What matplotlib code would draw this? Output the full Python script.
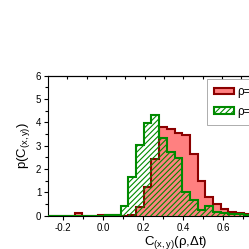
import numpy as np
import matplotlib
matplotlib.use("Agg")
import matplotlib.pyplot as plt
from matplotlib.ticker import MultipleLocator

plt.rcParams["font.family"] = ["Liberation Sans", "DejaVu Sans"]
plt.rcParams["mathtext.fontset"] = "custom"
plt.rcParams["mathtext.rm"] = "Liberation Sans"
plt.rcParams["mathtext.it"] = "Liberation Sans"
plt.rcParams["hatch.linewidth"] = 0.8

# histogram bins (width ~0.0385)
bin_start = -0.298
bin_width = 0.0385
n_bins = 34

# probability density per bin
red_vals = [0, 0, 0, 0, 0.10, 0, 0, 0.04, 0.04, 0.03,
            0.0, 0.03, 0.36, 1.24, 2.42, 3.81, 3.70, 3.55, 3.46, 2.63,
            1.49, 0.82, 0.50, 0.27, 0.16, 0.10, 0.07, 0.04, 0.02, 0.01,
            0, 0, 0, 0]
green_vals = [0, 0, 0, 0, 0, 0, 0, 0, 0.03, 0.03,
              0.42, 1.67, 3.03, 3.99, 4.31, 3.34, 2.71, 2.46, 1.03, 0.67,
              0.26, 0.41, 0.17, 0.11, 0.08, 0.06, 0.03, 0.02, 0.01, 0,
              0, 0, 0, 0]
labels = ["ρ=0.1", "ρ=0.5"]

edges = bin_start + bin_width * np.arange(n_bins + 1)

fig = plt.figure(figsize=(2.49, 2.49), dpi=100)
ax = fig.add_axes([0.194, 0.134, 1.024, 0.562])

ax.stairs(red_vals, edges, fill=True, facecolor="#ff8080",
          edgecolor="#8b0000", linewidth=1.5, label=labels[0], zorder=2)
ax.stairs(green_vals, edges, fill=True, facecolor="none",
          edgecolor="#008a00", hatch="//////", linewidth=1.5,
          label=labels[1], zorder=3)

ax.set_xlim(-0.275, 1.0)
ax.set_ylim(0, 6)
ax.xaxis.set_minor_locator(MultipleLocator(0.1))
ax.yaxis.set_major_locator(MultipleLocator(1))
ax.yaxis.set_minor_locator(MultipleLocator(0.5))
ax.set_xticks(np.arange(-0.2, 0.61, 0.2))
ax.set_xticklabels(["-0.2", "0.0", "0.2", "0.4", "0.6"])

ax.tick_params(which="both", direction="out", labelsize=7, width=0.8,
               top=False, right=False, pad=2)
ax.tick_params(which="major", length=3)
ax.tick_params(which="minor", length=2)

# top axis has its own finer ticks pointing inwards
sec = ax.secondary_xaxis("top")
sec.set_xticks(np.arange(-0.18, 1.0, 0.0967))
sec.set_xticklabels([])
sec.tick_params(direction="in", length=2.5, width=0.8, labeltop=False)
sec.spines["top"].set_linewidth(0.8)

for s in ax.spines.values():
    s.set_linewidth(0.8)

ax.set_xlabel(r"C$_{\rm (x,y)}$(ρ,Δt)", fontsize=9.5, labelpad=1)
ax.set_ylabel(r"p(C$_{\rm (x,y)}$)", fontsize=9.5, labelpad=3)

leg = ax.legend(loc="upper left", bbox_to_anchor=(207 / 249, 1 - 79 / 249),
                bbox_transform=fig.transFigure, fontsize=8.5, frameon=True,
                fancybox=False, edgecolor="#888888", handlelength=1.7,
                handleheight=0.5, handletextpad=0.3, labelspacing=0.65,
                borderpad=0.6, borderaxespad=0)
leg.get_frame().set_linewidth(0.6)

fig.savefig("out.png", dpi=100)
